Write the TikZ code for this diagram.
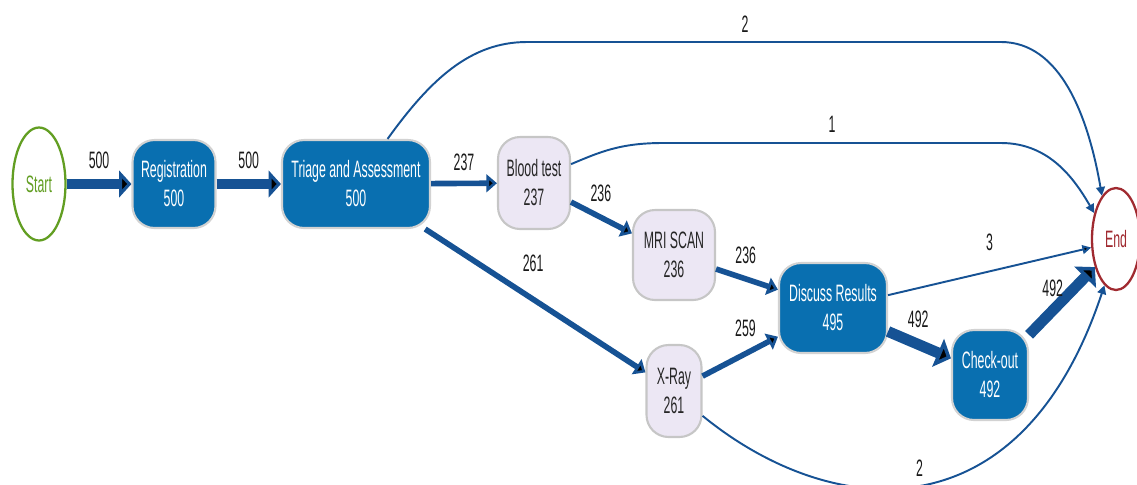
\documentclass[tikz,border=0pt]{standalone}
\usepackage{fontspec}
\setmainfont{Liberation Sans}[FakeStretch=0.52]
\usetikzlibrary{arrows.meta,positioning,shapes.geometric}

\definecolor{actblue}{RGB}{9,111,176}
\definecolor{actlilac}{RGB}{236,231,244}
\definecolor{flowblue}{RGB}{22,82,148}
\definecolor{startgreen}{RGB}{98,158,34}
\definecolor{endred}{RGB}{160,42,48}

\begin{document}
\begin{tikzpicture}[x=0.02cm,y=-0.02cm,auto,font=\fontsize{13.5pt}{16.5pt}\selectfont,
  busy node/.style={rectangle,rounded corners=0.44cm,fill=actblue,draw=gray!35,line width=1.2pt,text=white,align=center,inner sep=0pt},
  light node/.style={rectangle,rounded corners=0.44cm,fill=actlilac,draw=gray!45,line width=1.2pt,text=black!85,align=center,inner sep=0pt},
  term node/.style={ellipse,fill=white,line width=1.3pt,inner sep=0pt},
  lab/.style={inner sep=2pt,text=black!90},
  huge flow/.style={draw=flowblue,line width=6.2pt,-{Triangle[length=8pt,width=17pt]}},
  big flow/.style={draw=flowblue,line width=5.2pt,-{Triangle[length=7pt,width=15pt]}},
  mid flow/.style={draw=flowblue,line width=3.2pt,-{Triangle[length=6pt,width=10pt]}},
  thin flow/.style={draw=flowblue,line width=1.1pt,-{Triangle[length=5pt,width=5pt]}}]
  \useasboundingbox (0,0) rectangle (1137,484);

  \node[term node,draw=startgreen,text=startgreen,minimum width=1.06cm,minimum height=2.26cm] (start) at (39,184) {Start};
  \node[busy node,minimum width=1.66cm,minimum height=1.76cm] (reg) at (174,184) {Registration\\500};
  \node[busy node,minimum width=2.96cm,minimum height=1.76cm] (tri) at (356,184) {Triage and Assessment\\500};
  \node[light node,minimum width=1.44cm,minimum height=1.84cm] (blood) at (534,183) {Blood test\\237};
  \node[light node,minimum width=1.64cm,minimum height=1.8cm] (mri) at (674,255) {MRI SCAN\\236};
  \node[light node,minimum width=1.1cm,minimum height=1.84cm] (xray) at (674,391) {X-Ray\\261};
  \node[busy node,minimum width=2.16cm,minimum height=1.8cm] (disc) at (833,308) {Discuss Results\\495};
  \node[busy node,minimum width=1.52cm,minimum height=1.8cm] (chk) at (990,375) {Check-out\\492};
  \node[term node,draw=endred,text=endred,minimum width=0.96cm,minimum height=2.04cm] (endn) at (1116,239) {End};

  \path [big flow] (start) edge node[lab,above=4pt] {500} (reg);
  \path [big flow] (reg) edge node[lab,above=4pt] {500} (tri);
  \path [mid flow] (tri) edge node[lab,above=3.5pt] {237} (blood);
  \path [mid flow] (tri) edge node[lab,pos=0.49,above=12.2pt] {261} (xray);
  \path [mid flow] (blood) edge node[lab,pos=0.49,above=5.2pt] {236} (mri);
  \path [mid flow] (mri) edge node[lab,pos=0.48,above=5pt] {236} (disc);
  \path [mid flow] (xray) edge node[lab,pos=0.57,above=5.9pt] {259} (disc);
  \path [huge flow] (disc) edge node[lab,pos=0.48,above=4.5pt] {492} (chk);
  \path [huge flow] (chk) edge node[lab,pos=0.68,left=1pt] {492} (endn.233);
  \path [thin flow] (disc) edge node[lab,pos=0.5,above=9pt] {3} (endn.199);

  % long routes to the end
  \draw [thin flow] (tri.55) .. controls (430,80) and (470,42) .. (527,42)
    -- node[lab,pos=0.46,above=2.8pt] {2} (1001,42)
    .. controls (1060,42) and (1088,115) .. (endn.108);
  \draw [thin flow] (blood.27) .. controls (600,152) and (620,143) .. (663,143)
    -- node[lab,pos=0.5,above=3.4pt] {1} (1001,143)
    .. controls (1050,143) and (1075,180) .. (endn.130);
  \draw [thin flow] (xray.-41) .. controls (830,520) and (1020,540) .. node[lab,pos=0.5,above=2.2pt] {2} (endn.-104);
\end{tikzpicture}
\end{document}
